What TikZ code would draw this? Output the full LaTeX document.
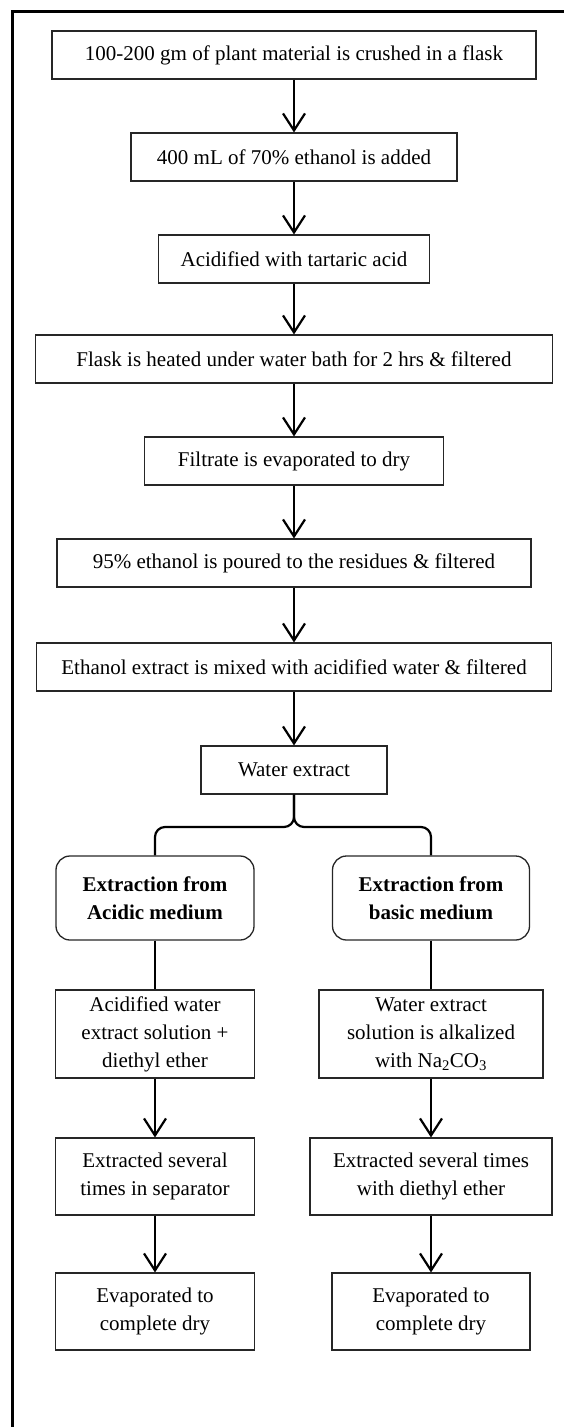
\documentclass[tikz,border=0pt]{standalone}
\usepackage{fontspec}
\setmainfont{Liberation Serif}
\usetikzlibrary{arrows.meta}
\begin{document}
\begin{tikzpicture}[x=1pt,y=-1pt,
  box/.style={draw=black!85,line width=1.1pt,minimum height=48pt,inner sep=0pt,align=center,font=\fontsize{21}{28}\selectfont},
  rbox/.style={box,rounded corners=14pt,line width=1.3pt,font=\fontsize{21}{28}\selectfont\bfseries},
  arr/.style={line width=2.2pt,-{Straight Barb[length=17pt,width=22pt,line width=2.2pt]}},
  conn/.style={line width=2.2pt}]
\useasboundingbox (0,0) rectangle (564,1427);
\draw[line width=3pt] (564,11) -- (12,11) -- (12,1427);
% main column
\node[box,minimum width=484pt] (b1) at (294,55) {100-200 gm of plant material is crushed in a flask};
\node[box,minimum width=326pt] (b2) at (294,157) {400 mL of 70\% ethanol is added};
\node[box,minimum width=271pt] (b3) at (294,259) {Acidified with tartaric acid};
\node[box,minimum width=517pt] (b4) at (294,359) {Flask is heated under water bath for 2 hrs \& filtered};
\node[box,minimum width=299pt] (b5) at (294,461) {Filtrate is evaporated to dry};
\node[box,minimum width=474pt] (b6) at (294,563) {95\% ethanol is poured to the residues \& filtered};
\node[box,minimum width=515pt] (b7) at (294,667) {Ethanol extract is mixed with acidified water \& filtered};
\node[box,minimum width=186pt] (b8) at (294,770) {Water extract};
\draw[arr] (b1) -- (b2);
\draw[arr] (b2) -- (b3);
\draw[arr] (b3) -- (b4);
\draw[arr] (b4) -- (b5);
\draw[arr] (b5) -- (b6);
\draw[arr] (b6) -- (b7);
\draw[arr] (b7) -- (b8);
% branches
\node[rbox,minimum width=198pt,minimum height=84pt] (ra) at (155,898) {Extraction from\\Acidic medium};
\node[rbox,minimum width=197pt,minimum height=84pt] (rb) at (431,898) {Extraction from\\basic medium};
\coordinate (j) at (294,822);
\draw[conn,rounded corners=10pt] (b8.south) -- (294,827) -| (ra.north);
\draw[conn,rounded corners=10pt] (b8.south) -- (294,827) -| (rb.north);
\node[box,minimum width=199pt,minimum height=88pt] (a1) at (155,1034) {Acidified water\\extract solution +\\diethyl ether};
\node[box,minimum width=224pt,minimum height=88pt] (c1) at (431,1034) {Water extract\\solution is alkalized\\with Na\textsubscript{2}CO\textsubscript{3}};
\node[box,minimum width=199pt,minimum height=77pt] (a2) at (155,1176.5) {Extracted several\\times in separator};
\node[box,minimum width=242pt,minimum height=77pt] (c2) at (431,1176.5) {Extracted several times\\with diethyl ether};
\node[box,minimum width=199pt,minimum height=77pt] (a3) at (155,1311.5) {Evaporated to\\complete dry};
\node[box,minimum width=198pt,minimum height=77pt] (c3) at (431,1311.5) {Evaporated to\\complete dry};
\draw[conn] (ra) -- (a1);
\draw[conn] (rb) -- (c1);
\draw[arr] (a1) -- (a2);
\draw[arr] (c1) -- (c2);
\draw[arr] (a2) -- (a3);
\draw[arr] (c2) -- (c3);
\end{tikzpicture}
\end{document}
